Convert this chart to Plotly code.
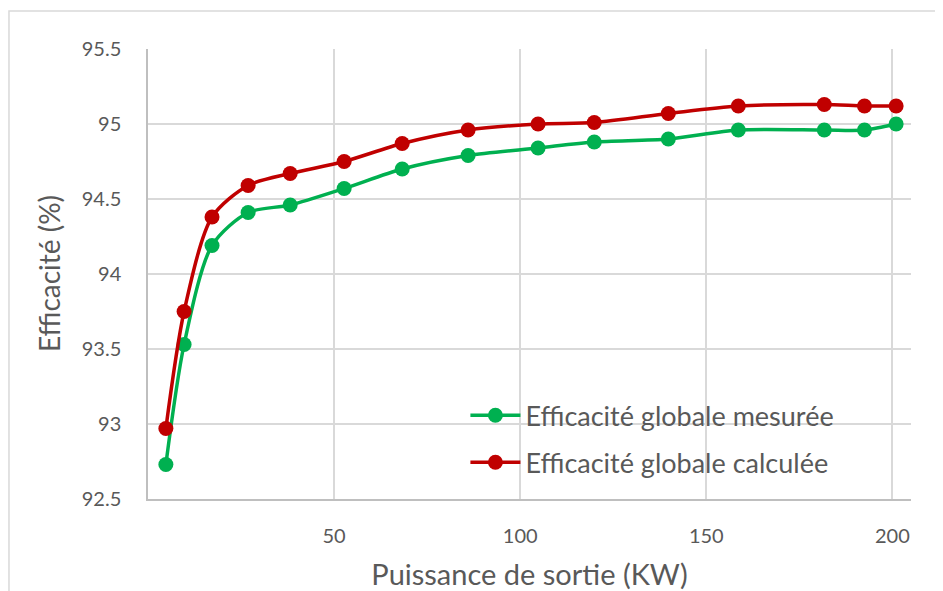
"""
Efficacité globale : mesurée vs calculée
"""
import plotly.graph_objects as go

puissance_kw = [4.8, 9.7, 17.2, 26.9, 38.2, 52.7, 68.3, 86.0, 104.8, 119.9, 139.8, 158.6, 181.7, 192.5, 201.0]
eff_mesuree = [92.73, 93.53, 94.19, 94.41, 94.46, 94.57, 94.70, 94.79, 94.84, 94.88, 94.90, 94.96, 94.96, 94.96, 95.00]
eff_calculee = [92.97, 93.75, 94.38, 94.59, 94.67, 94.75, 94.87, 94.96, 95.00, 95.01, 95.07, 95.12, 95.13, 95.12, 95.12]

x_ticks = [50, 100, 150, 200]
y_ticks = [92.5, 93, 93.5, 94, 94.5, 95, 95.5]

GREEN = '#00b050'
RED = '#c00000'
TEXT = '#595959'
GRID = '#d9d9d9'
FONT = 'Lato, Open Sans, sans-serif'

fig = go.Figure()

fig.add_trace(go.Scatter(
    x=puissance_kw, y=eff_mesuree,
    mode='lines+markers',
    name='Efficacité globale mesurée',
    legendgroup='mes',
    line=dict(color=GREEN, width=3.5, shape='spline', smoothing=0.8),
    marker=dict(color=GREEN, size=15)
))

fig.add_trace(go.Scatter(
    x=puissance_kw, y=eff_calculee,
    mode='lines+markers',
    name='Efficacité globale calculée',
    legendgroup='calc',
    line=dict(color=RED, width=3.5, shape='spline', smoothing=0.8),
    marker=dict(color=RED, size=15)
))

# outer chart border (Excel-style chart area)
fig.add_shape(
    type='rect', xref='paper', yref='paper',
    x0=-0.1822, x1=1.2, y0=-0.4, y1=1.0844,
    line=dict(color=GRID, width=1.5), fillcolor='rgba(0,0,0,0)',
    layer='below'
)

# y title as annotation - standoff is ignored without automargin
fig.add_annotation(
    text='Efficacité (%)',
    xref='paper', yref='paper',
    x=-0.1297, y=0.5,
    xanchor='center', yanchor='middle',
    textangle=-90,
    showarrow=False,
    font=dict(size=28, color=TEXT)
)

# page body adds ~8px margin, so the figure is a bit smaller than the window
fig.update_layout(
    width=935,
    height=583,
    margin=dict(l=140, r=32, t=41, b=92),
    paper_bgcolor='white',
    plot_bgcolor='white',
    font=dict(family=FONT, size=20, color=TEXT),
    showlegend=True,
    legend=dict(
        x=0.416, y=0.133, xanchor='left', yanchor='middle',
        bgcolor='rgba(0,0,0,0)',
        font=dict(size=27, color=TEXT),
        itemwidth=50,
        traceorder='grouped',
        tracegroupgap=9
    ),
    xaxis=dict(
        range=[0, 205],
        tickvals=x_ticks,
        automargin=False,
        showgrid=True,
        gridcolor=GRID,
        gridwidth=1.5,
        showline=True,
        linecolor='#bfbfbf',
        linewidth=1.5,
        zeroline=False,
        ticks='',
        ticklabelstandoff=18,
        title=dict(text='Puissance de sortie (KW)', font=dict(size=29, color=TEXT), standoff=20)
    ),
    yaxis=dict(
        range=[92.5, 95.5],
        tickvals=y_ticks,
        ticktext=[str(v) for v in y_ticks],
        automargin=False,
        showgrid=True,
        gridcolor=GRID,
        gridwidth=1.5,
        showline=True,
        linecolor='#bfbfbf',
        linewidth=1.5,
        zeroline=False,
        ticks='',
        ticklabelstandoff=21
    )
)

fig.write_html("out.html")
